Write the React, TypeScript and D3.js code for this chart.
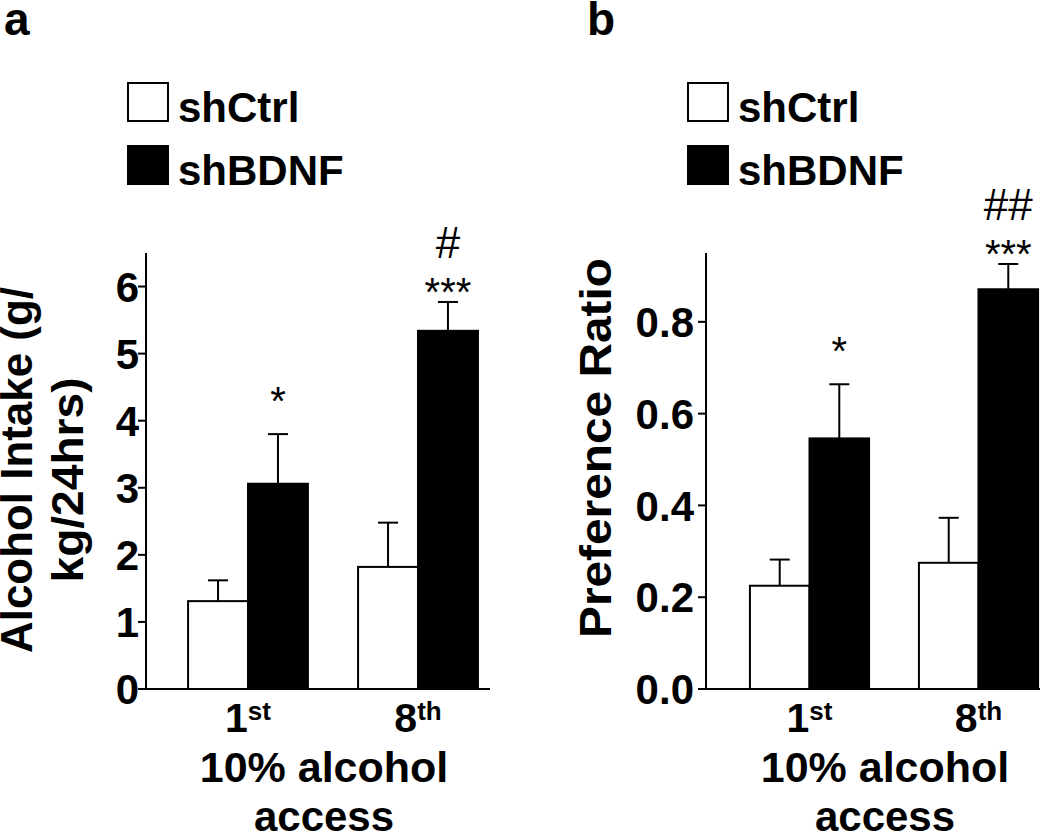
import React from "react";
import * as d3 from "d3";

// ---------- DATA ----------
const groups = ["1st", "8th"];
const groupSup = ["st", "th"];
const groupMain = ["1", "8"];
const series = ["shCtrl", "shBDNF"];

// Panel a: Alcohol intake (g/kg/24hrs)
const intakeCtrlMean = [1.31, 1.82];
const intakeCtrlSem = [0.31, 0.66];
const intakeBdnfMean = [3.06, 5.34];
const intakeBdnfSem = [0.74, 0.43];
const intakeTicks = [0, 1, 2, 3, 4, 5, 6];
const intakeStars = ["*", "***"];
const intakeHash = ["", "#"];

// Panel b: Preference ratio
const prefCtrlMean = [0.225, 0.275];
const prefCtrlSem = [0.057, 0.098];
const prefBdnfMean = [0.546, 0.871];
const prefBdnfSem = [0.118, 0.055];
const prefTicks = [0, 0.2, 0.4, 0.6, 0.8];
const prefStars = ["*", "***"];
const prefHash = ["", "##"];

const FONT = "'Liberation Sans', Arial, Helvetica, sans-serif";

type PanelProps = {
  letter: string;
  letterX: number;
  axisX: number;
  xRange: [number, number];
  baselineEnd: number;
  yMax: number;
  ticks: number[];
  fmt: (v: number) => string;
  labelGap: number;
  ctrlMean: number[];
  ctrlSem: number[];
  bdnfMean: number[];
  bdnfSem: number[];
  stars: string[];
  hash: string[];
  legendX: number;
  titleLines: { text: string; x: number; cy: number; len: number }[];
};

function Panel(p: PanelProps) {
  const y0 = 689;
  const yTop = 253;
  const y = d3.scaleLinear().domain([0, p.yMax]).range([y0, yTop]);
  const pi = 0.295;
  const x = d3.scaleBand<string>().domain(groups).range(p.xRange).paddingInner(pi).paddingOuter(pi / 2);
  const xi = d3.scaleBand<string>().domain(series).range([0, x.bandwidth()]).padding(0);
  const means = [p.ctrlMean, p.bdnfMean];
  const sems = [p.ctrlSem, p.bdnfSem];
  const fills = ["#ffffff", "#000000"];
  const capHalf = 10;
  const annotGap = [36, 13];
  const sw = 2;

  const bars: React.ReactNode[] = [];
  groups.forEach((g, gi) => {
    series.forEach((s, si) => {
      const bx = (x(g) as number) + (xi(s) as number);
      const bw = xi.bandwidth();
      const m = means[si][gi];
      const e = sems[si][gi];
      const cx = bx + bw / 2;
      bars.push(
        <g key={g + s}>
          <line x1={cx} x2={cx} y1={y(m)} y2={y(m + e)} stroke="#000" strokeWidth={sw} />
          <line x1={cx - capHalf} x2={cx + capHalf} y1={y(m + e)} y2={y(m + e)} stroke="#000" strokeWidth={sw} />
          <rect x={bx} y={y(m)} width={bw} height={y(0) - y(m)} fill={fills[si]} stroke="#000" strokeWidth={sw} />
        </g>
      );
      if (si === 1) {
        const glyphBottom = y(m + e) - annotGap[gi];
        const starBase = glyphBottom + 17;
        bars.push(
          <text key={g + "star"} x={cx} y={starBase} textAnchor="middle" fontFamily={FONT} fontSize={40}>
            {p.stars[gi]}
          </text>
        );
        if (p.hash[gi]) {
          bars.push(
            <text key={g + "hash"} x={cx} y={starBase - 48} textAnchor="middle" fontFamily={FONT} fontSize={44}>
              {p.hash[gi]}
            </text>
          );
        }
      }
    });
  });

  const midX = ((x(groups[0]) as number) + (x(groups[1]) as number) + x.bandwidth()) / 2 - 9;

  return (
    <g>
      <text x={p.letterX} y={35} fontFamily={FONT} fontWeight="bold" fontSize={46}>
        {p.letter}
      </text>
      {/* legend */}
      {series.map((s, si) => (
        <g key={s}>
          <rect
            x={p.legendX}
            y={83 + si * 63}
            width={40}
            height={38}
            fill={fills[si]}
            stroke="#000"
            strokeWidth={2}
          />
          <text x={p.legendX + 50} y={122 + si * 63} fontFamily={FONT} fontWeight="bold" fontSize={42}>
            {s}
          </text>
        </g>
      ))}
      {/* y axis */}
      <line x1={p.axisX} x2={p.axisX} y1={y0} y2={yTop} stroke="#000" strokeWidth={sw} />
      {p.ticks.map((t) => (
        <g key={t}>
          <line x1={p.axisX - 8} x2={p.axisX} y1={y(t)} y2={y(t)} stroke="#000" strokeWidth={sw} />
          <text
            x={p.axisX - p.labelGap}
            y={y(t)}
            dy="0.36em"
            textAnchor="end"
            fontFamily={FONT}
            fontWeight="bold"
            fontSize={42}
          >
            {p.fmt(t)}
          </text>
        </g>
      ))}
      {p.titleLines.map((l, i) => (
        <text
          key={i}
          transform={`translate(${l.x},${l.cy}) rotate(-90)`}
          textAnchor="middle"
          fontFamily={FONT}
          fontWeight="bold"
          fontSize={44}
          textLength={l.len}
          lengthAdjust="spacingAndGlyphs"
        >
          {l.text}
        </text>
      ))}
      {bars}
      {/* baseline */}
      <line x1={p.axisX - 8} x2={p.baselineEnd} y1={y0} y2={y0} stroke="#000" strokeWidth={sw} />
      {/* x labels */}
      {groups.map((g, gi) => (
        <text
          key={g}
          x={(x(g) as number) + x.bandwidth() / 2}
          y={732}
          textAnchor="middle"
          fontFamily={FONT}
          fontWeight="bold"
          fontSize={41}
        >
          {groupMain[gi]}
          <tspan fontSize={26} dy={-12}>
            {groupSup[gi]}
          </tspan>
        </text>
      ))}
      <text x={midX} y={782} textAnchor="middle" fontFamily={FONT} fontWeight="bold" fontSize={43}>
        10% alcohol
      </text>
      <text x={midX} y={831} textAnchor="middle" fontFamily={FONT} fontWeight="bold" fontSize={42}>
        access
      </text>
    </g>
  );
}

export default function App() {
  return (
    <svg
      width={1050}
      height={833}
      viewBox="0 0 1050 833"
      style={{ position: "absolute", left: 0, top: 0, background: "#fff" }}
    >
      <rect x={0} y={0} width={1050} height={833} fill="#fff" />
      <Panel
        letter="a"
        letterX={4}
        axisX={146}
        xRange={[163, 503]}
        baselineEnd={490}
        yMax={6.5}
        ticks={intakeTicks}
        fmt={(v) => d3.format("d")(v)}
        labelGap={7}
        ctrlMean={intakeCtrlMean}
        ctrlSem={intakeCtrlSem}
        bdnfMean={intakeBdnfMean}
        bdnfSem={intakeBdnfSem}
        stars={intakeStars}
        hash={intakeHash}
        legendX={128}
        titleLines={[
          { text: "Alcohol Intake (g/", x: 32, cy: 470, len: 366 },
          { text: "kg/24hrs)", x: 83, cy: 480, len: 205 },
        ]}
      />
      <Panel
        letter="b"
        letterX={587}
        axisX={706}
        xRange={[725, 1063]}
        baselineEnd={1040}
        yMax={0.95}
        ticks={prefTicks}
        fmt={(v) => d3.format(".1f")(v)}
        labelGap={12}
        ctrlMean={prefCtrlMean}
        ctrlSem={prefCtrlSem}
        bdnfMean={prefBdnfMean}
        bdnfSem={prefBdnfSem}
        stars={prefStars}
        hash={prefHash}
        legendX={688}
        titleLines={[{ text: "Preference Ratio", x: 611, cy: 448, len: 380 }]}
      />
    </svg>
  );
}
